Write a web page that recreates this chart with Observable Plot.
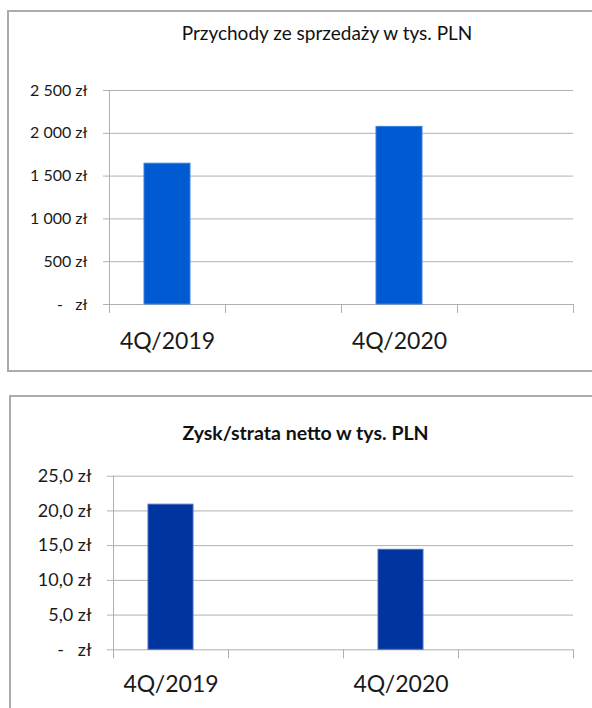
<!DOCTYPE html>
<html>
<head>
<meta charset="utf-8">
<script src="https://cdn.jsdelivr.net/npm/d3@7"></script>
<script src="https://cdn.jsdelivr.net/npm/@observablehq/plot@0.6"></script>
<style>
  html, body { margin: 0; padding: 0; width: 592px; height: 708px; overflow: hidden; background: #fff; }
  body { position: relative; font-family: Lato, "Open Sans", sans-serif; }
  .box { position: absolute; box-sizing: border-box; border: 2px solid #ababab; }
  .title { position: absolute; transform: translate(-50%, -50%); white-space: nowrap; color: #111; }
  svg { position: absolute; left: 0; }
</style>
</head>
<body>
<div class="box" style="left:7px; top:10px; width:700px; height:362px;"></div>
<div class="box" style="left:9px; top:395px; width:700px; height:400px;"></div>
<div class="title" id="t1" style="left:327px; top:32px; font-size:19px;"></div>
<div class="title" id="t2" style="left:305.5px; top:432px; font-size:19.5px; font-weight:bold;"></div>
<script>
const categories = ["4Q/2019", "", "4Q/2020", ""];
const revenue = [1645, null, 2075, null];
const profit = [20.9, null, 14.4, null];
const revenueTicks = [0, 500, 1000, 1500, 2000, 2500];
const profitTicks = [0, 5, 10, 15, 20, 25];
const title1 = "Przychody ze sprzedaży w tys. PLN";
const title2 = "Zysk/strata netto w tys. PLN";

document.getElementById("t1").textContent = title1;
document.getElementById("t2").textContent = title2;

const NB = "\u00a0";
const zeroLabel = "-" + NB.repeat(3) + "zł";
const fmtInt = d3.formatLocale({decimal: ",", thousands: NB, grouping: [3], currency: ["", ""]}).format(",.0f");
const fmt1 = d => d === 0 ? zeroLabel : fmtInt(d) + " zł";
const fmt2 = d => d === 0 ? zeroLabel : d.toFixed(1).replace(".", ",") + " zł";

const gridColor = "#b0b0b0";
const textColor = "#1a1a1a";

function makeChart({values, ticks, yMax, fmt, fill, stroke, top, height, marginTop, marginBottom, marginLeft, marginRight, yFont, labelPad}) {
  const data = values.map((v, i) => ({i, v})).filter(d => d.v != null);
  const labelPos = categories.map((c, i) => c ? i + 0.5 : null).filter(d => d != null);
  const svg = Plot.plot({
    width: 592,
    height,
    marginTop, marginBottom, marginLeft, marginRight,
    style: {background: "transparent", fontFamily: "Lato, 'Open Sans', sans-serif", overflow: "visible"},
    x: {domain: [0, categories.length], axis: null},
    y: {domain: [0, yMax], axis: null},
    marks: [
      Plot.gridY(ticks, {stroke: gridColor, strokeOpacity: 1, strokeWidth: 1}),
      Plot.ruleX([0], {y1: 0, y2: yMax, stroke: gridColor, strokeWidth: 1}),
      Plot.axisY({ticks, label: null, tickSize: 6, tickPadding: 16, tickFormat: fmt, stroke: gridColor, fill: textColor, fontSize: yFont}),
      Plot.axisX({ticks: d3.range(categories.length + 1), label: null, tickSize: 9, tickFormat: () => "", stroke: gridColor}),
      Plot.axisX({ticks: labelPos, label: null, tickSize: 0, tickPadding: labelPad, tickFormat: t => categories[Math.floor(t)], fill: textColor, fontSize: 23}),
      Plot.rectY(data, {x1: "i", x2: d => d.i + 1, y: "v", insetLeft: 35, insetRight: 35, fill, stroke, strokeWidth: 1})
    ]
  });
  svg.style.top = top + "px";
  document.body.appendChild(svg);
}

makeChart({values: revenue, ticks: revenueTicks, yMax: 2500, fmt: fmt1, fill: "#005bd3", stroke: "#3c80e2",
  top: 0, height: 372, marginTop: 90, marginBottom: 68, marginLeft: 109, marginRight: 19, yFont: 16, labelPad: 28});
makeChart({values: profit, ticks: profitTicks, yMax: 25, fmt: fmt2, fill: "#00359f", stroke: "#4a6cc4",
  top: 396, height: 312, marginTop: 79.7, marginBottom: 58.7, marginLeft: 113, marginRight: 19, yFont: 18, labelPad: 26});
</script>
</body>
</html>
